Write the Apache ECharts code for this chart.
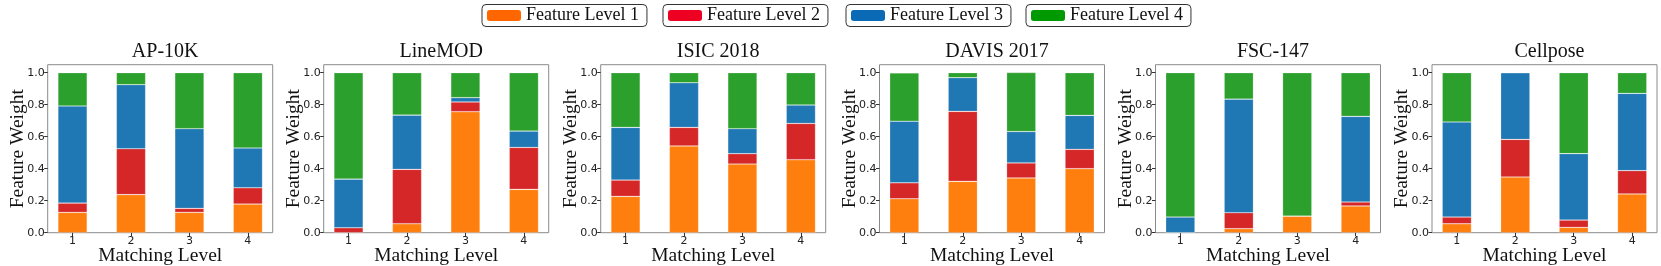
<!DOCTYPE html>
<html>
<head>
<meta charset="utf-8">
<script src="https://cdn.jsdelivr.net/npm/echarts@6/dist/echarts.min.js"></script>
<style>
html,body{margin:0;padding:0;background:#fff;}
#chart{width:1661px;height:266px;}
</style>
</head>
<body>
<div id="chart"></div>
<script>
// ---- data ----
const datasetNames = ['AP-10K', 'LineMOD', 'ISIC 2018', 'DAVIS 2017', 'FSC-147', 'Cellpose'];
const matchingLevels = ['1', '2', '3', '4'];
const yTicks = [0, 0.2, 0.4, 0.6, 0.8, 1.0];
const seriesNames = ['Feature Level 1', 'Feature Level 2', 'Feature Level 3', 'Feature Level 4'];
// one inner array per dataset, one value per matching level
const level1 = [
  [0.127, 0.238, 0.127, 0.179],
  [0.000, 0.056, 0.756, 0.271],
  [0.227, 0.542, 0.429, 0.456],
  [0.212, 0.321, 0.342, 0.400],
  [0.000, 0.025, 0.104, 0.167],
  [0.056, 0.348, 0.033, 0.242]
];
const level2 = [
  [0.058, 0.287, 0.025, 0.102],
  [0.031, 0.340, 0.061, 0.262],
  [0.102, 0.116, 0.065, 0.227],
  [0.100, 0.437, 0.094, 0.121],
  [0.000, 0.100, 0.000, 0.025],
  [0.042, 0.235, 0.046, 0.146]
];
const level3 = [
  [0.607, 0.400, 0.498, 0.248],
  [0.304, 0.339, 0.027, 0.102],
  [0.329, 0.279, 0.156, 0.115],
  [0.385, 0.211, 0.196, 0.212],
  [0.098, 0.710, 0.000, 0.535],
  [0.594, 0.417, 0.415, 0.483]
];
const level4 = [
  [0.208, 0.075, 0.350, 0.471],
  [0.665, 0.265, 0.156, 0.365],
  [0.342, 0.063, 0.350, 0.202],
  [0.302, 0.031, 0.369, 0.267],
  [0.902, 0.165, 0.896, 0.273],
  [0.308, 0.000, 0.506, 0.129]
];
const levels = [level1, level2, level3, level4];

// ---- styles / layout ----
const barColors = ['#ff7f0e', '#d62728', '#1f77b4', '#2ca02c'];
const legendColors = ['#ff6600', '#ee0022', '#0a6ab5', '#009900'];
const panelLefts = [47.7, 323.7, 600.7, 879.5, 1155.5, 1432];
const legendLefts = [482, 663, 846, 1026];
const gridTop = 64.7, gridHeight = 168, frameWidth = 225;
// matplotlib-like x limits: categories at 1..4, view from 0.575 to 4.425
const xViewMin = 0.575, xViewMax = 4.425;
const unitPx = frameWidth / (xViewMax - xViewMin);
const barGridOffset = (1 - xViewMin) * unitPx - unitPx / 2; // frame left -> first band left
const yMax = 1.05;
const serif = 'Liberation Serif';
const sans = 'DejaVu Sans';

const grid = [], xAxis = [], yAxis = [], series = [], title = [], legend = [];

datasetNames.forEach((name, i) => {
  const fi = 2 * i, bi = 2 * i + 1;
  // frame grid (box, y ticks)
  grid.push({
    left: panelLefts[i], top: gridTop, width: frameWidth, height: gridHeight,
    outerBoundsMode: 'none', containLabel: false,
    show: true, borderColor: '#8a8a8a', borderWidth: 1, backgroundColor: 'transparent', z: 0
  });
  // bar grid (category bands)
  grid.push({
    left: panelLefts[i] + barGridOffset, top: gridTop, width: unitPx * 4, height: gridHeight,
    outerBoundsMode: 'none', containLabel: false,
    show: false
  });
  title.push({
    text: name,
    left: panelLefts[i] + frameWidth / 2,
    textAlign: 'center',
    top: 37,
    textStyle: { fontFamily: serif, fontSize: 20, fontWeight: 'normal', color: '#111' }
  });
  xAxis.push({
    type: 'value', gridIndex: fi, min: 0, max: 1, show: false
  });
  yAxis.push({
    type: 'value', gridIndex: fi, min: 0, max: yMax,
    name: 'Feature Weight', nameLocation: 'middle', nameGap: 20, nameMoveOverlap: false,
    nameTextStyle: { fontFamily: serif, fontSize: 19.5, color: '#111' },
    axisLine: { show: false },
    splitLine: { show: false },
    axisTick: { show: true, length: 3.5, customValues: yTicks, lineStyle: { color: '#333' } },
    axisLabel: { customValues: yTicks, margin: 3, fontFamily: sans, fontSize: 11, color: '#222',
      formatter: v => Number(v).toFixed(1) }
  });
  xAxis.push({
    type: 'category', gridIndex: bi, data: matchingLevels, boundaryGap: true,
    name: 'Matching Level', nameLocation: 'middle', nameGap: 13, nameMoveOverlap: false,
    nameTextStyle: { fontFamily: serif, fontSize: 19.5, color: '#111' },
    axisLine: { show: false },
    splitLine: { show: false },
    axisTick: { show: true, alignWithLabel: true, length: 3.5, lineStyle: { color: '#333' } },
    axisLabel: { margin: 3, fontFamily: sans, fontSize: 11, color: '#222' }
  });
  yAxis.push({
    type: 'value', gridIndex: bi, min: 0, max: yMax, show: false, splitLine: { show: false }
  });
  levels.forEach((lv, k) => {
    series.push({
      name: seriesNames[k],
      type: 'bar',
      xAxisIndex: bi, yAxisIndex: bi,
      stack: 'panel' + i,
      barWidth: '50%',
      itemStyle: { color: barColors[k], borderColor: 'rgba(255,255,255,0.35)', borderWidth: 0.6 },
      emphasis: { disabled: true },
      data: lv[i]
    });
  });
});

seriesNames.forEach((n, k) => {
  legend.push({
    data: [{ name: n, itemStyle: { color: legendColors[k], borderWidth: 0 } }],
    left: legendLefts[k], top: 4.5,
    itemWidth: 34, itemHeight: 11,
    padding: [2, 8, 2, 5],
    borderColor: '#333', borderWidth: 1, borderRadius: 4,
    selectedMode: false,
    textStyle: { fontFamily: serif, fontSize: 18, color: '#111' }
  });
});

const chart = echarts.init(document.getElementById('chart'), null, { renderer: 'canvas' });
chart.setOption({
  animation: false,
  backgroundColor: '#fff',
  title, legend, grid, xAxis, yAxis, series
});
</script>
</body>
</html>
